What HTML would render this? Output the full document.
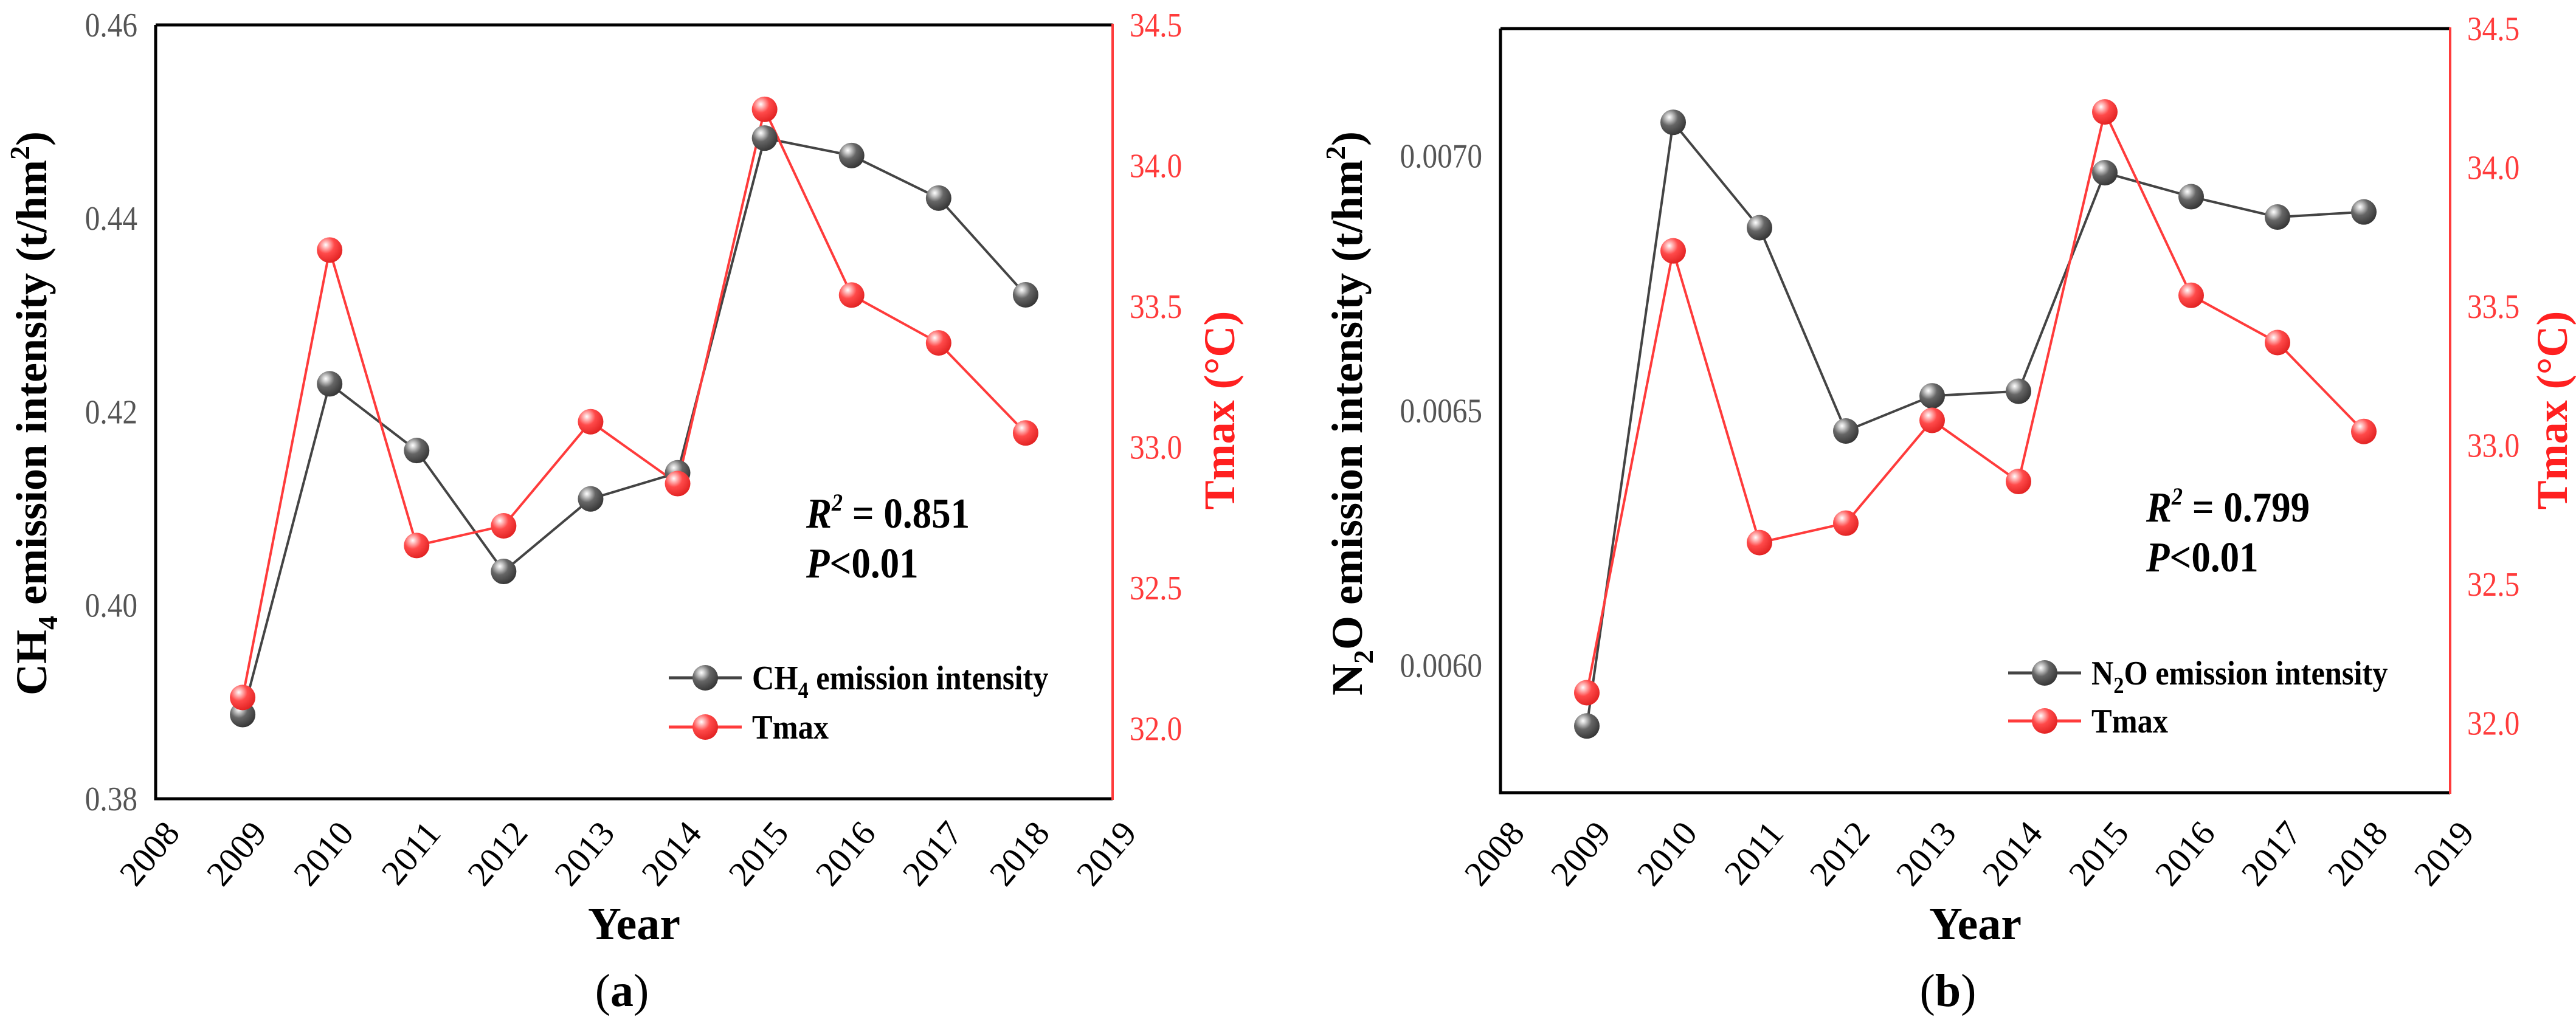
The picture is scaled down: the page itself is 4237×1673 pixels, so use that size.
<!DOCTYPE html>
<html><head><meta charset="utf-8"><style>
html,body{margin:0;padding:0;background:#fff;}
svg{display:block;font-family:"Liberation Serif",serif;}
</style></head><body>
<svg id="fig" width="4237" height="1673" viewBox="0 0 4237 1673" xmlns="http://www.w3.org/2000/svg">
<defs>
<radialGradient id="gGray" cx="0.35" cy="0.3" r="0.75">
<stop offset="0" stop-color="#ffffff"/><stop offset="0.15" stop-color="#d0d0d0"/><stop offset="0.45" stop-color="#666"/><stop offset="1" stop-color="#333"/>
</radialGradient>
<radialGradient id="gRed" cx="0.35" cy="0.3" r="0.75">
<stop offset="0" stop-color="#ffffff"/><stop offset="0.15" stop-color="#ffc0c0"/><stop offset="0.45" stop-color="#ff4a4a"/><stop offset="1" stop-color="#e02020"/>
</radialGradient>
</defs>
</svg>
<script>
const years = [2009,2010,2011,2012,2013,2014,2015,2016,2017,2018];
const xTicks = [2008,2009,2010,2011,2012,2013,2014,2015,2016,2017,2018,2019];
const ch4Values = [0.3887,0.4229,0.4160,0.4035,0.4110,0.4137,0.4483,0.4465,0.4421,0.4321];
const n2oValues = [0.005881,0.007066,0.006859,0.006460,0.006529,0.006538,0.006967,0.006920,0.006880,0.006890];
const tmaxValues = [32.11,33.70,32.65,32.72,33.09,32.87,34.20,33.54,33.37,33.05];
const ch4Ticks = [0.38,0.40,0.42,0.44,0.46];
const ch4TickLabels = ["0.38","0.40","0.42","0.44","0.46"];
const n2oTicks = [0.0060,0.0065,0.0070];
const n2oTickLabels = ["0.0060","0.0065","0.0070"];
const tmaxTicks = [32.0,32.5,33.0,33.5,34.0,34.5];
const tmaxTickLabels = ["32.0","32.5","33.0","33.5","34.0","34.5"];

const NS="http://www.w3.org/2000/svg";
const svg=document.getElementById('fig');
function mk(tag,attrs,parent,text){const e=document.createElementNS(NS,tag);for(const k in attrs)e.setAttribute(k,attrs[k]);if(text!==undefined)e.textContent=text;(parent||svg).appendChild(e);return e;}

function panel(cfg){
  const g=mk('g',{});
  
  
  const L=cfg.L,R=cfg.R,T=cfg.T,B=cfg.B;
  const xs=v=>L+(v-2008)/11*(R-L);
  const yl=v=>B-(v-cfg.lmin)/(cfg.lmax-cfg.lmin)*(B-T);
  const yr=v=>B-(v-31.75)/(34.5-31.75)*(B-T);
  // axes
  const ax=mk('path',{d:`M${L} ${T} H${R} M${L} ${T} V${B} H${R}`,stroke:'#000','stroke-width':5,fill:'none'},g);
  
  
  const rax=mk('line',{x1:R,y1:T-2,x2:R,y2:B+2,stroke:'#ff3b3b','stroke-width':4},g);
  
  
  // left ticks
  cfg.lticks.forEach((v,i)=>{
    const t=mk('text',{x:L-30,y:yl(v)+19,'text-anchor':'end','font-size':56,fill:'#555',transform:`translate(${L-30} 0) scale(0.88 1) translate(${-(L-30)} 0)`},g,cfg.llabels[i]);
    
    
  });
  tmaxTicks.forEach((v,i)=>{
    const t=mk('text',{x:R+28,y:yr(v)+19,'font-size':56,fill:'#ff3b3b',transform:`translate(${R+28} 0) scale(0.88 1) translate(${-(R+28)} 0)`},g,tmaxTickLabels[i]);
    
    
  });
  xTicks.forEach(v=>{
    const x=xs(v)+42,y=1372;
    const t=mk('text',{x:x,y:y,'text-anchor':'end','font-size':58,fill:'#000',transform:`rotate(-50 ${x} ${y})`},g,String(v));
    
    
  });
  // series
  const lp=years.map((y,i)=>`${i?'L':'M'}${xs(y)} ${yl(cfg.lvals[i])}`).join(' ');
  const l1=mk('path',{d:lp,stroke:'#444','stroke-width':4,fill:'none'},g);
  
  
  const rp=years.map((y,i)=>`${i?'L':'M'}${xs(y)} ${yr(tmaxValues[i])}`).join(' ');
  const l2=mk('path',{d:rp,stroke:'#ff3b3b','stroke-width':4,fill:'none'},g);
  
  
  years.forEach((y,i)=>{
    const c=mk('circle',{cx:xs(y),cy:yl(cfg.lvals[i]),r:21,fill:'url(#gGray)'},g);
    
    
  });
  years.forEach((y,i)=>{
    const c=mk('circle',{cx:xs(y),cy:yr(tmaxValues[i]),r:21,fill:'url(#gRed)'},g);
    
    
  });
  // legend
  const lg=mk('g',{},g);
  
  
  [[cfg.legY1,'#444','url(#gGray)'],[cfg.legY2,'#ff3b3b','url(#gRed)']].forEach(([y,col,gr])=>{
    mk('line',{x1:cfg.legX,y1:y,x2:cfg.legX+120,y2:y,stroke:col,'stroke-width':5},lg);
    mk('circle',{cx:cfg.legX+60,cy:y,r:21,fill:gr},lg);
  });
  const t1=mk('text',{x:cfg.legX+137,y:cfg.legY1+19,'font-size':56,'font-weight':'bold',transform:`translate(${cfg.legX+137} 0) scale(0.9 1) translate(${-(cfg.legX+137)} 0)`},lg);
  
  
  t1.innerHTML=cfg.legText;
  const t2=mk('text',{x:cfg.legX+137,y:cfg.legY2+19,'font-size':56,'font-weight':'bold',transform:`translate(${cfg.legX+137} 0) scale(0.9 1) translate(${-(cfg.legX+137)} 0)`},lg,'Tmax');
  
  
  // stats
  const s1=mk('text',{x:cfg.statX,y:cfg.statY,'font-size':70,'font-weight':'bold',transform:`translate(${cfg.statX} 0) scale(0.9 1) translate(${-cfg.statX} 0)`},g);
  s1.innerHTML=`<tspan font-style="italic">R</tspan><tspan font-size="40" dy="-28" font-style="italic">2</tspan><tspan dy="28"> = ${cfg.r2}</tspan>`;
  
  
  const s2=mk('text',{x:cfg.statX,y:cfg.statY+82,'font-size':70,'font-weight':'bold',transform:`translate(${cfg.statX} 0) scale(0.9 1) translate(${-cfg.statX} 0)`},g);
  s2.innerHTML=`<tspan font-style="italic">P</tspan>&lt;0.01`;
  
  
  // titles
  const yt=mk('text',{x:cfg.ltX,y:680,'text-anchor':'middle','font-size':72,'font-weight':'bold',transform:`rotate(-90 ${cfg.ltX} 680)`},g);
  yt.innerHTML=cfg.ltitle;
  
  
  const rt=mk('text',{x:cfg.rtX,y:675,'text-anchor':'middle','font-size':72,'font-weight':'bold',fill:'#ff2020',transform:`rotate(-90 ${cfg.rtX} 675)`},g,'Tmax (°C)');
  
  
  const xt=mk('text',{x:(L+R)/2,y:1545,'text-anchor':'middle','font-size':76,'font-weight':'bold'},g,'Year');
  
  
  const pl=mk('text',{x:cfg.capX,y:1655,'text-anchor':'middle','font-size':76},g);
  pl.innerHTML=`(<tspan font-weight="bold">${cfg.id}</tspan>)`;
  
  
}

panel({id:'a',L:256,R:1830,T:41,B:1314,lmin:0.38,lmax:0.46,lvals:ch4Values,lticks:ch4Ticks,llabels:ch4TickLabels,
  legX:1100,legY1:1115,legY2:1196,legText:'CH<tspan font-size="38" dy="14">4</tspan><tspan dy="-14"> emission intensity</tspan>',
  statX:1326,statY:868,r2:'0.851',ltX:76,rtX:2030,capX:1023,
  ltitle:'CH<tspan font-size="46" dy="18">4</tspan><tspan dy="-18"> emission intensity (t/hm</tspan><tspan font-size="46" dy="-28">2</tspan><tspan dy="28">)</tspan>'});
panel({id:'b',L:2468,R:4030,T:47,B:1304,lmin:0.00575,lmax:0.00725,lvals:n2oValues,lticks:n2oTicks,llabels:n2oTickLabels,
  legX:3303,legY1:1107,legY2:1186,legText:'N<tspan font-size="38" dy="14">2</tspan><tspan dy="-14">O emission intensity</tspan>',
  statX:3530,statY:858,r2:'0.799',ltX:2240,rtX:4222,capX:3204,
  ltitle:'N<tspan font-size="46" dy="18">2</tspan><tspan dy="-18">O emission intensity (t/hm</tspan><tspan font-size="46" dy="-28">2</tspan><tspan dy="28">)</tspan>'});
</script>
</body></html>
